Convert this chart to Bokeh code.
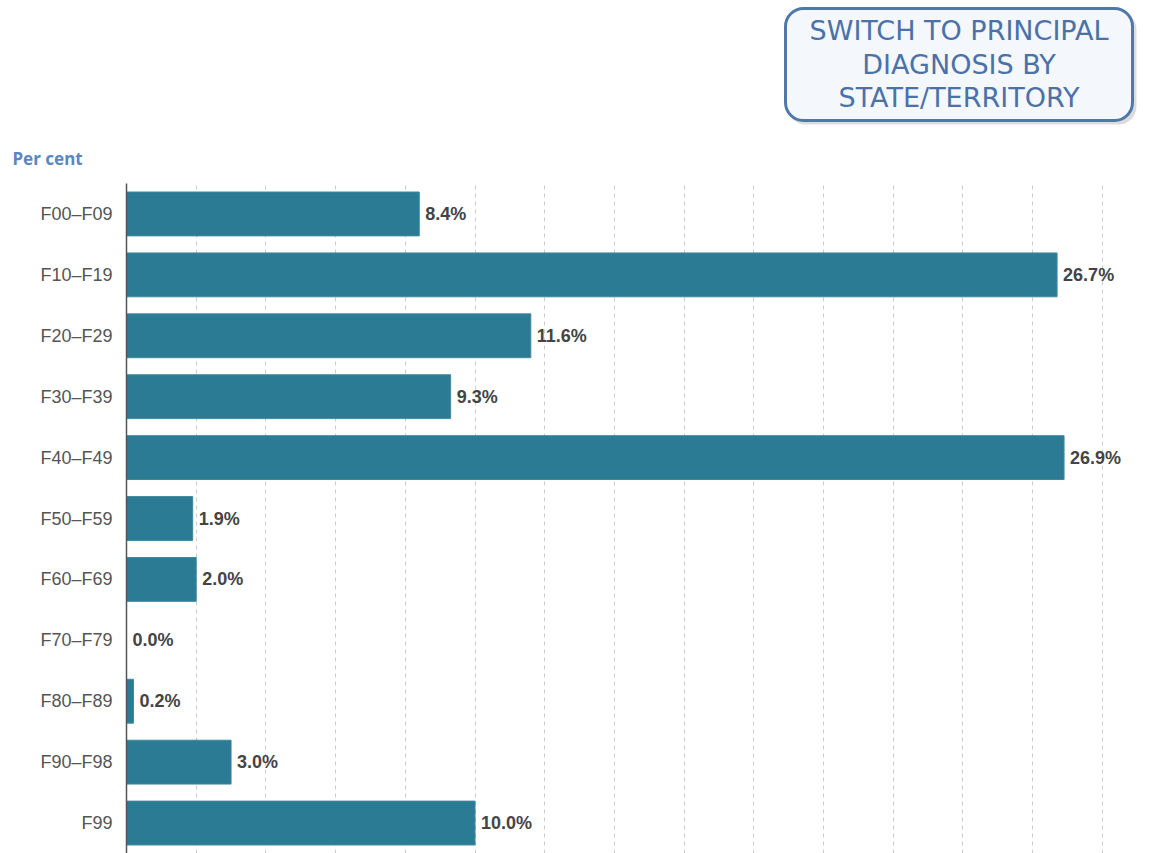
from bokeh.plotting import figure
from bokeh.models import ColumnDataSource, FactorRange, Range1d, FixedTicker, BoxAnnotation
from bokeh.layouts import column
from bokeh.core.properties import value
from bokeh.embed import file_html
from bokeh.resources import INLINE

categories = ["F00\u2013F09", "F10\u2013F19", "F20\u2013F29", "F30\u2013F39", "F40\u2013F49",
              "F50\u2013F59", "F60\u2013F69", "F70\u2013F79", "F80\u2013F89", "F90\u2013F98", "F99"]
values = [8.4, 26.7, 11.6, 9.3, 26.9, 1.9, 2.0, 0.0, 0.2, 3.0, 10.0]
labels = [f"{v:.1f}%" for v in values]
grid_ticks = [2, 4, 6, 8, 10, 12, 14, 16, 18, 20, 22, 24, 26, 28]
button_lines = ["SWITCH TO PRINCIPAL", "DIAGNOSIS BY", "STATE/TERRITORY"]
axis_title = "Per cent"

W, H = 1164, 853
HEAD = 131          # header strip height
TOPB = 52           # title border above the chart frame
LEFT, RIGHT = 126, 14

# ---------- header (frame mapped to canvas pixels) ----------
hd = figure(width=W, height=HEAD, output_backend="svg", toolbar_location=None,
            x_range=Range1d(LEFT, W - RIGHT), y_range=Range1d(HEAD, 0),
            min_border_left=LEFT, min_border_right=RIGHT, min_border_top=0, min_border_bottom=0)
hd.axis.visible = False
hd.grid.visible = False
hd.outline_line_color = None

bl, br, bt, bb = 785, 1132, 8, 120
hd.add_layout(BoxAnnotation(left=bl + 2, right=br + 4, top=bt + 3, bottom=bb + 4, level="underlay",
                            fill_color="#9a9a9a", fill_alpha=0.35, line_color=None, border_radius=18))
hd.add_layout(BoxAnnotation(left=bl, right=br, top=bt, bottom=bb, level="underlay",
                            fill_color="#f4f7fb", fill_alpha=1.0, line_color="#4f78aa", line_alpha=1.0,
                            line_width=3, border_radius=18))
hsrc = ColumnDataSource(dict(x=[(bl + br) / 2] * 3, y=[30 + 33.5 * i for i in range(3)], t=button_lines))
hd.text(x="x", y="y", text="t", source=hsrc, text_font=value("DejaVu Sans"), text_font_size="27px",
        text_color="#4a72a8", text_align="center", text_baseline="middle")

# ---------- chart ----------
src = ColumnDataSource(dict(cat=categories, val=values, lab=labels))
p = figure(width=W, height=H - HEAD, output_backend="svg", toolbar_location=None,
           y_range=FactorRange(*categories[::-1], range_padding=0),
           x_range=Range1d(0, 29.38),
           min_border_left=LEFT, min_border_top=TOPB, min_border_right=RIGHT, min_border_bottom=0)
p.outline_line_color = None
p.title.text = axis_title
p.title.align = "left"
p.title.offset = 12 - LEFT
p.title.text_font = "Noto Sans"
p.title.text_font_size = "17px"
p.title.text_font_style = "bold"
p.title.text_color = "#5b86c0"
p.title.standoff = 27

p.hbar(y="cat", right="val", left=0, height=0.72, source=src,
       fill_color="#2a7b93", line_color="#3f8aa0", line_width=1)
p.text(x="val", y="cat", text="lab", source=src, x_offset=6,
       text_baseline="middle", text_align="left", text_font_size="18px",
       text_font_style="bold", text_color="#444444", text_font=value("Liberation Sans"))

p.xaxis.visible = False
p.xgrid.ticker = FixedTicker(ticks=grid_ticks)
p.xgrid.grid_line_color = "#cccccc"
p.xgrid.grid_line_dash = "4 4"
p.xgrid.grid_line_width = 1
p.ygrid.grid_line_color = None

ax = p.yaxis[0]
ax.axis_line_color = "#555555"
ax.axis_line_width = 1.5
ax.major_tick_line_color = None
ax.minor_tick_line_color = None
ax.major_label_text_font = "Liberation Sans"
ax.major_label_text_font_size = "18px"
ax.major_label_text_color = "#555555"
ax.major_label_standoff = 8

layout = column(hd, p, spacing=0)
open("out.html", "w").write(file_html(layout, INLINE))
